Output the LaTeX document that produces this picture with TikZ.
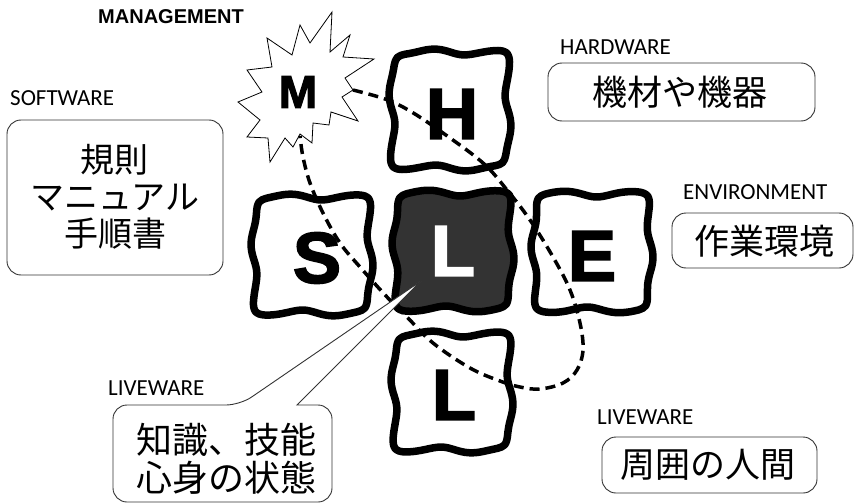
\documentclass[tikz,border=0pt]{standalone}
\usepackage{fontspec}
\setmainfont{Carlito}
\newfontfamily\jp{Noto Sans CJK JP}
\newfontfamily\arb{Liberation Sans}[FakeBold=2.5]
\newfontfamily\ars{Liberation Sans}
\newcommand\tilepath[3]{plot[smooth cycle,variable=\t,domain=0:357,samples=120] ({#1+(58*sqf(\t)+3*sin(6*\t+#3))*cos(\t)},{#2+(58*sqf(\t)+3*sin(6*\t+#3))*sin(\t)})}
\begin{document}
\begin{tikzpicture}[x=1pt,y=-1pt,
  declare function={sqf(\t)=1/((cos(\t))^12+(sin(\t))^12)^0.08333;},
  tile/.style={line width=7.5pt,draw=black,fill=white,line join=round},
  bigletter/.style={font=\arb\bfseries\fontsize{72}{72}\selectfont,inner sep=0pt},
  lab/.style={font=\fontsize{23}{26}\selectfont,inner sep=0pt,anchor=west},
  jtext/.style={font=\jp\fontsize{35}{38}\selectfont,align=center,inner sep=0pt},
  cbox/.style={draw=black!80,line width=0.9pt,rounded corners=14pt,fill=white},
  loop/.style={line width=3.5pt,dash pattern=on 10pt off 6pt},
  burst/.style={draw=black,line width=0.8pt,fill=white,line join=miter}]
\useasboundingbox (0,0) rectangle (854,503);

% tiles
\draw[tile] \tilepath{450}{110}{0};
\draw[tile] \tilepath{312}{255}{30};
\draw[tile] \tilepath{592}{252}{60};
\draw[tile] \tilepath{452}{392}{20};
\draw[tile,fill=black!80] \tilepath{453}{251}{45};

% letters
\node[bigletter] (H) at (452,114) {H};
\node[bigletter] (S) at (317,258) {S};
\node[bigletter] (E) at (592,256) {E};
\node[bigletter,text=white] (Lc) at (453,251) {L};
\node[bigletter] (Lb) at (454,395) {L};

% management starburst
\draw[burst] (300,25) -- (310,43) -- (332,12) -- (330,52) -- (350,35) -- (343,57)
  -- (374,59) -- (345,78) -- (353,90) -- (342,97) -- (358,121) -- (331,112)
  -- (329,125) -- (313,123) -- (312,143) -- (300,134) -- (293,147) -- (285,138)
  -- (270,162) -- (268,138) -- (247,137) -- (260,120) -- (238,102) -- (262,92)
  -- (247,70) -- (272,67) -- (267,38) -- (292,55) -- cycle;
\node[font=\arb\bfseries\fontsize{46}{46}\selectfont,inner sep=0pt] (M) at (298,92) {M};
\coordinate (mstart) at (353,90);
\coordinate (mend) at (300,136);

% dashed loop
\draw[loop] plot[smooth,tension=0.6] coordinates {(mstart) (385,99) (410,111) (443,133)
  (483,163) (507,190) (530,220) (553,257) (570,290) (580,323) (583,350) (577,370)
  (563,383) (540,389) (520,387) (500,381) (470,368) (433,343) (407,317) (387,297)
  (360,267) (340,243) (323,213) (310,183) (303,157) (mend)};

% labels
\node[font=\ars\bfseries\fontsize{20}{22}\selectfont,inner sep=0pt] (mgmt) at (171,17) {MANAGEMENT};
\node[lab] (swl) at (10,98) {SOFTWARE};
\node[lab] (hwl) at (560,47) {HARDWARE};
\node[lab] (envl) at (683,192) {ENVIRONMENT};
\node[lab] (lwl1) at (108,388) {LIVEWARE};
\node[lab] (lwl2) at (597,417) {LIVEWARE};

% boxes
\node[cbox,minimum width=216pt,minimum height=155pt] (swb) at (115,197.5) {};
\node[jtext,font=\jp\fontsize{34}{37}\selectfont] (swt) at (115,197) {規則\\マニュアル\\手順書};
\node[cbox,minimum width=267pt,minimum height=58pt] (hwb) at (681.5,92) {};
\node[jtext] (hwt) at (680,92) {機材や機器};
\node[cbox,minimum width=181pt,minimum height=55pt] (envb) at (762.5,240.5) {};
\node[jtext] (envt) at (764,241) {作業環境};
\node[cbox,minimum width=215pt,minimum height=56pt] (lwb2) at (709.5,465) {};
\node[jtext] (lwt2) at (708,465) {周囲の人間};

% liveware callout
\coordinate (tip) at (421,281);
\draw[draw=black!80,line width=0.9pt,fill=white]
  (297,405) [rounded corners=14pt] -- (332,405) -- (332,502) -- (113,502) -- (113,405)
  -- (240,405) [sharp corners] -- (tip) -- cycle;
\node[jtext,font=\jp\fontsize{36}{38}\selectfont] (lwt1) at (226,459) {知識、技能\\心身の状態};
\end{tikzpicture}
\end{document}
